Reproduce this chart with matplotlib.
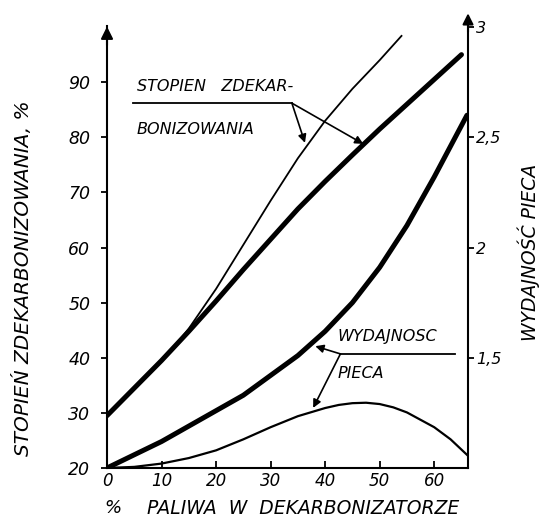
import matplotlib

matplotlib.use("Agg")
import matplotlib.pyplot as plt

# % paliwa w dekarbonizatorze
x_main = [0, 5, 10, 15, 20, 25, 30, 35, 40, 45, 50, 55, 60, 65]
# stopien zdekarbonizowania, % (thick)
stopien_thick = [29.5, 34.5, 39.5, 44.8, 50.3, 56, 61.5, 67, 72, 76.8, 81.5, 86, 90.5, 95]
# stopien zdekarbonizowania, % (thin)
x_thin = [0, 5, 10, 12, 15, 20, 25, 30, 35, 40, 45, 50, 54]
stopien_thin = [29.5, 34.5, 39.5, 41.6, 45.3, 52.5, 60.5, 68.5, 76.2, 83, 88.8, 94, 98.4]
# wydajnosc pieca (right axis)
x_wyd = [0, 5, 10, 15, 20, 25, 30, 35, 40, 45, 50, 55, 60, 66]
wydajnosc_thick = [1.0, 1.06, 1.12, 1.19, 1.26, 1.33, 1.42, 1.51, 1.62, 1.75, 1.91, 2.1, 2.32, 2.6]
x_hump = [0, 5, 10, 15, 20, 25, 30, 35, 40, 42.5, 45, 47.5, 50, 52.5, 55, 60, 63, 66]
wydajnosc_thin = [1.0, 1.005, 1.02, 1.045, 1.08, 1.13, 1.185, 1.235, 1.272, 1.286, 1.294, 1.296,
                  1.29, 1.275, 1.252, 1.185, 1.13, 1.06]

x_ticks = [0, 10, 20, 30, 40, 50, 60]
left_ticks = [20, 30, 40, 50, 60, 70, 80, 90]
right_ticks = [1.5, 2, 2.5, 3]
right_labels = ["1,5", "2", "2,5", "3"]

font = {"family": "DejaVu Sans", "style": "italic"}

fig = plt.figure(figsize=(5.41, 5.25), dpi=100)
ax = fig.add_axes([0.1978, 0.1086, 0.6673, 0.8419])
ax2 = ax.twinx()

ax.plot(x_main, stopien_thick, color="k", lw=3.6, solid_capstyle="round")
ax.plot(x_thin, stopien_thin, color="k", lw=1.3)
ax2.plot(x_wyd, wydajnosc_thick, color="k", lw=3.6, solid_capstyle="round")
ax2.plot(x_hump, wydajnosc_thin, color="k", lw=1.6)

ax.set_xlim(0, 66.2)
ax.set_ylim(20, 100.2)
ax2.set_ylim(1, 3.005)

for a in (ax, ax2):
    a.spines["top"].set_visible(False)
    for s in a.spines.values():
        s.set_linewidth(1.5)
ax.spines["right"].set_visible(False)
ax2.spines["left"].set_visible(False)
ax2.spines["bottom"].set_visible(False)

ax.set_xticks(x_ticks)
ax.set_xticklabels([str(t) for t in x_ticks], fontsize=12, **font)
ax.set_yticks(left_ticks)
ax.set_yticklabels([str(t) for t in left_ticks], fontsize=12.5, **font)
ax2.set_yticks(right_ticks)
ax2.set_yticklabels(right_labels, fontsize=11.5, **font)
ax.tick_params(axis="x", direction="in", length=5, width=1.3, pad=3)
ax.tick_params(axis="y", direction="out", length=4, width=1.3, pad=8)
ax2.tick_params(axis="y", direction="out", length=4, width=1.3, pad=2)

# arrow heads on vertical axes
ax.annotate("", xy=(0, 1.005), xytext=(0, 0.95), xycoords="axes fraction",
            arrowprops=dict(arrowstyle="-|>", color="k", lw=1.5, mutation_scale=18),
            annotation_clip=False)
ax.annotate("", xy=(1, 1.035), xytext=(1, 0.98), xycoords="axes fraction",
            arrowprops=dict(arrowstyle="-|>", color="k", lw=1.5, mutation_scale=16),
            annotation_clip=False)

fig.text(0.042, 0.47, "STOPIEŃ ZDEKARBONIZOWANIA, %", rotation=90, ha="center",
         va="center", fontsize=14.5, **font)
fig.text(0.977, 0.52, "WYDAJNOŚĆ PIECA", rotation=90, ha="center", va="center",
         fontsize=13.5, **font)
fig.text(0.193, 0.032, "%", ha="left", va="center", fontsize=13, **font)
fig.text(0.272, 0.032, "PALIWA  W  DEKARBONIZATORZE", ha="left", va="center",
         fontsize=13.5, **font)

# annotations
arrow = dict(arrowstyle="-|>", color="k", lw=1.2, mutation_scale=12, shrinkA=0, shrinkB=0)
ax.text(5.5, 89.3, "STOPIEN   ZDEKAR-", ha="left", va="center", fontsize=11.5, **font)
ax.plot([4.8, 33.9], [86.2, 86.2], color="k", lw=1.3)
ax.text(5.5, 81.5, "BONIZOWANIA", ha="left", va="center", fontsize=11.5, **font)
ax.annotate("", xy=(36.3, 79.0), xytext=(33.9, 86.2), arrowprops=arrow)
ax.annotate("", xy=(47, 78.8), xytext=(33.9, 86.2), arrowprops=arrow)

ax.text(42.2, 43.8, "WYDAJNOSC", ha="left", va="center", fontsize=11.5, **font)
ax.plot([42.8, 63.9], [40.7, 40.7], color="k", lw=1.3)
ax.text(42.2, 37.2, "PIECA", ha="left", va="center", fontsize=11.5, **font)
ax.annotate("", xy=(38.2, 42.1), xytext=(42.8, 40.7), arrowprops=arrow)
ax.annotate("", xy=(37.8, 30.9), xytext=(42.8, 40.7), arrowprops=arrow)

fig.savefig("out.png", dpi=100, facecolor="white")
